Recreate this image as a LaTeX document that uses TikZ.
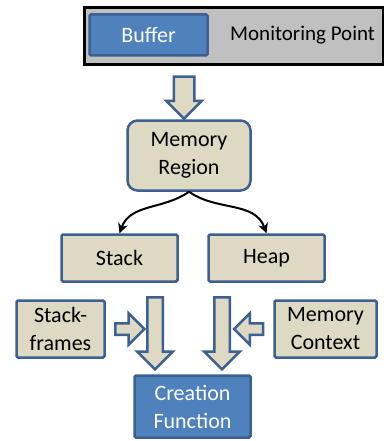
\documentclass[tikz,border=0pt]{standalone}
\usepackage{fontspec}
\setmainfont{Carlito}
\usetikzlibrary{shapes.arrows,arrows.meta}
\definecolor{boxblue}{RGB}{79,129,189}
\definecolor{boxedge}{RGB}{60,96,145}
\definecolor{beige}{RGB}{221,217,195}
\definecolor{bargray}{RGB}{192,192,192}
\tikzset{
  box/.style={draw=boxedge, line width=2.5pt, fill=beige, align=center, inner sep=0pt, rounded corners=1.5pt, font=\fontsize{22}{28}\selectfont},
  bluebox/.style={box, fill=boxblue, text=white},
  fat/.style={single arrow, draw=boxedge, line width=2.5pt, fill=beige, inner xsep=0pt, single arrow tip angle=90, single arrow head indent=0pt},
  branch/.style={line width=2pt, -{Stealth[length=10pt,width=10pt]}}
}
\begin{document}
\begin{tikzpicture}[x=1pt,y=-1pt]
\useasboundingbox (0,0) rectangle (383,441);
\node[draw=black, line width=3pt, fill=bargray, minimum width=299pt, minimum height=57pt, inner sep=0pt, anchor=north west] (bar) at (82.5,6.5) {};
\node[bluebox, minimum width=118pt, minimum height=41pt] (buffer) at (148.5,35) {Buffer};
\node[anchor=west, inner sep=0pt, font=\fontsize{21}{27}\selectfont] (mpoint) at (230,35) {Monitoring Point};
\node[fat, rotate=-90, inner ysep=9pt, single arrow head extend=7.5pt, minimum height=42pt] (down) at (184,92.5) {};
\node[box, rounded corners=10pt, minimum width=123pt, minimum height=70pt] (region) at (189,155.5) {Memory\\Region};
\node[box, minimum width=116pt, minimum height=47pt] (stack) at (119.5,258) {Stack};
\node[box, minimum width=116pt, minimum height=47pt] (heap) at (266.5,258) {Heap};
\node[box, minimum width=88pt, minimum height=57pt] (frames) at (60.5,329) {Stack-\\frames};
\node[box, minimum width=102pt, minimum height=57pt] (context) at (325.5,329) {Memory\\Context};
\node[bluebox, minimum width=116pt, minimum height=62pt] (create) at (192.5,406.5) {Creation\\Function};
\node[fat, rotate=-90, inner ysep=6.5pt, single arrow head extend=10pt, minimum height=72pt] (fromstack) at (155,329.5) {};
\node[fat, rotate=-90, inner ysep=6.5pt, single arrow head extend=10pt, minimum height=72pt] (fromheap) at (222,329.5) {};
\node[fat, inner ysep=4.5pt, single arrow head extend=10pt, minimum height=29pt] (fromframes) at (127,329) {};
\node[fat, rotate=180, inner ysep=4.5pt, single arrow head extend=10pt, minimum height=29pt] (fromcontext) at (251.5,329) {};
\draw[branch] (region.south) to[out=-145,in=70] (stack.north);
\draw[branch] (region.south) to[out=-35,in=110] (heap.north);
\end{tikzpicture}
\end{document}
